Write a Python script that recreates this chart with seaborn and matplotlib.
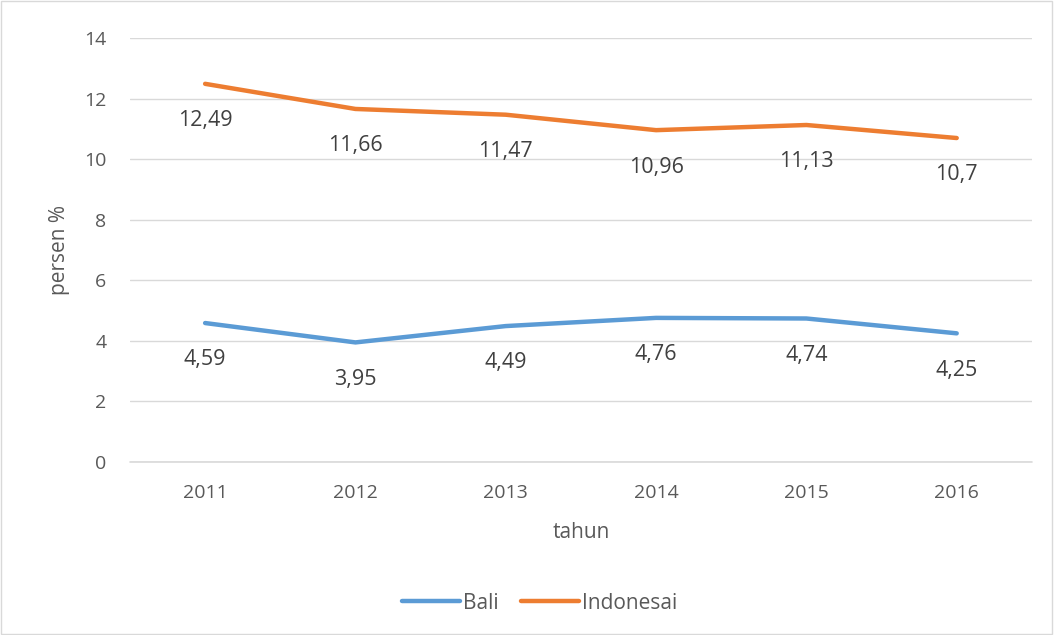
import pandas as pd
import numpy as np
import matplotlib.pyplot as plt
import seaborn as sns

# ── Data ──────────────────────────────────────────────────────────────────
years = ['2011', '2012', '2013', '2014', '2015', '2016']
bali = [4.59, 3.95, 4.49, 4.76, 4.74, 4.25]
indonesia = [12.49, 11.66, 11.47, 10.96, 11.13, 10.7]
series_names = ['Bali', 'Indonesai']
colors = ['#5B9BD5', '#ED7D31']

df = pd.DataFrame({
    'pos': list(range(len(years))) * 2,
    'nilai': bali + indonesia,
    'seri': [series_names[0]] * len(years) + [series_names[1]] * len(years),
})

sns.set_style('white')
plt.rcParams['font.family'] = ['Open Sans', 'DejaVu Sans']
txt = '#595959'

fig = plt.figure(figsize=(10.54, 6.35), dpi=100)
ax = fig.add_axes([0.1233, 0.2724, 0.8557, 0.6676])

sns.lineplot(data=df, x='pos', y='nilai', hue='seri', palette=colors,
             linewidth=3.2, ax=ax, legend=False)

# data labels below each point
for vals in [bali, indonesia]:
    for i, v in enumerate(vals):
        label = f'{v:g}'.replace('.', ',')
        ax.annotate(label, (i, v), xytext=(0, -19), textcoords='offset points',
                    ha='center', va='top', fontsize=15.5, color='#404040')

ax.set_xlim(-0.5, len(years) - 0.5)
ax.set_ylim(0, 14)
ax.set_yticks(np.arange(0, 15, 2))
ax.set_xticks(range(len(years)))
ax.set_xticklabels(years)
ax.yaxis.grid(True, color='#d9d9d9', linewidth=1)
ax.axhline(0, color='#d9d9d9', linewidth=1.2, clip_on=False, zorder=0)
ax.set_axisbelow(True)
for s in ax.spines.values():
    s.set_visible(False)
ax.tick_params(axis='both', length=0, labelsize=14, labelcolor=txt)
ax.tick_params(axis='x', pad=16)
ax.tick_params(axis='y', pad=17)
ax.set_xlabel('tahun', fontsize=15, color=txt, labelpad=14)
ax.set_ylabel('persen %', fontsize=15, color=txt, labelpad=10)

handles = [plt.Line2D([0], [0], color=c, linewidth=3.2) for c in colors]
fig.legend(handles, series_names, loc='center', bbox_to_anchor=(0.512, 0.05),
           ncol=2, frameon=False, fontsize=15, labelcolor=txt,
           handlelength=2.75, handletextpad=0.15, columnspacing=1.1)

# figure border
fig.patches.append(plt.Rectangle((0.001, 0.001), 0.997, 0.997, transform=fig.transFigure,
                                 fill=False, edgecolor='#d9d9d9', linewidth=1))

plt.savefig('out.png', dpi=100)
plt.close()
